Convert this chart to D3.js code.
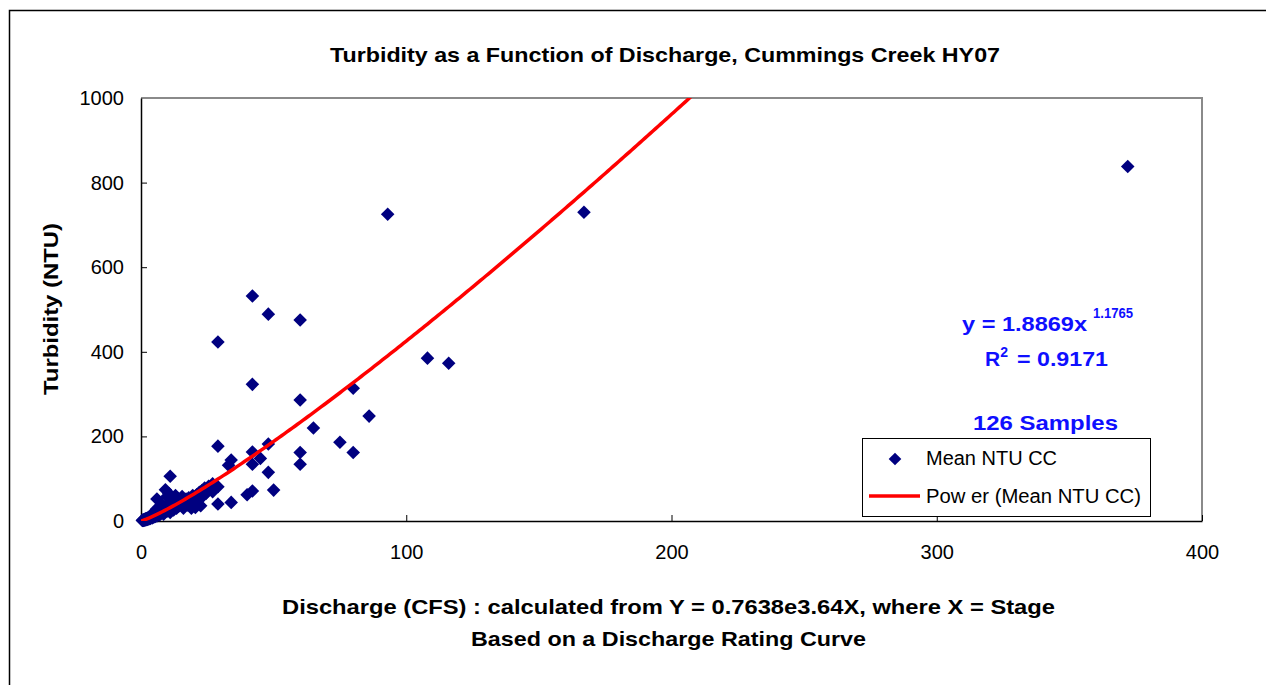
<!DOCTYPE html>
<html>
<head>
<meta charset="utf-8">
<script src="https://cdn.jsdelivr.net/npm/d3@7"></script>
<style>
  body { margin: 0; background: #fff; }
  svg { display: block; font-family: "Liberation Sans", Arial, sans-serif; }
</style>
</head>
<body>
<svg id="chart"></svg>
<script>
// donnees : debit (CFS) et turbidite (NTU)
var discharge = [
  372, 167, 93, 42, 48, 60, 29, 42, 60, 80, 108, 116, 86, 65, 75, 80, 29, 34, 33, 42,
  48, 45, 42, 48, 60, 60, 50, 42, 40, 34, 29, 29, 27, 23, 11,
  0.5, 0.6, 0.8, 1, 1.1, 1.2, 1.4, 1.5, 1.6, 1.8, 2, 2, 2.2, 2.3, 2.5, 2.6, 2.8, 3, 3, 3.2,
  3.4, 3.5, 3.7, 3.9, 4, 4.2, 4.4, 4.6, 4.8, 5, 5.2, 5.4, 5.6, 5.8, 6, 6.2, 6, 6.6, 6.8, 7,
  7.2, 7.5, 7.8, 8, 8.2, 8.5, 8.8, 9.2, 9.2, 9.5, 9.8, 10, 10.2, 10.5, 10.8, 11, 11.3, 11.6, 12, 12.3,
  12.6, 13, 13.4, 13.8, 14.2, 14.6, 15, 15.5, 16, 16.5, 17, 17.5, 18, 18.5, 19, 19.5, 20, 20.5, 21, 21.5,
  22, 22.5, 23, 23.5, 24, 24.5, 25, 25.5, 26, 27, 28
];
var turbidity = [
  838, 730, 725, 532, 489, 475, 423, 323, 286, 314, 385, 373, 248, 220, 186, 162, 177, 144, 132, 163,
  182, 148, 134, 115, 162, 134, 73, 71, 62, 44, 40, 81, 69, 69, 106,
  1, 2, 1.5, 2, 3, 2, 4, 3, 2.5, 5, 4, 6, 3, 5, 7, 4, 6, 5, 9, 7,
  11, 6, 8, 14, 10, 7, 12, 18, 9, 13, 22, 11, 16, 28, 12, 19, 52, 15, 24, 14,
  30, 18, 40, 20, 27, 16, 33, 74, 22, 29, 58, 24, 38, 65, 28, 20, 45, 32, 52, 26,
  38, 60, 30, 44, 35, 50, 40, 58, 30, 45, 52, 38, 55, 42, 30, 60, 52, 32, 62, 55,
  68, 36, 72, 60, 78, 65, 70, 82, 75, 88, 78
];
var xTicks = [0, 100, 200, 300, 400];
var yTicks = [0, 200, 400, 600, 800, 1000];
// ajustement puissance affiche par Excel
var fitA = 1.8869, fitB = 1.1765;
var fitR2 = 0.9171;

var svg = d3.select("svg").attr("width", 1266).attr("height", 685);
var plot = { left: 141, top: 98, right: 1202, bottom: 521 };

var x = d3.scaleLinear().domain([0, 400]).range([plot.left, plot.right]);
var y = d3.scaleLinear().domain([0, 1000]).range([plot.bottom, plot.top]);

// cadre exterieur
svg.append("rect")
  .attr("x", 9.5).attr("y", 10.5)
  .attr("width", 1300).attr("height", 700)
  .attr("fill", "none").attr("stroke", "#000").attr("stroke-width", 1.5);

// bords gris de la zone de tracé
svg.append("path")
  .attr("d", "M" + plot.left + "," + plot.top + "H" + plot.right + "V" + plot.bottom)
  .attr("fill", "none").attr("stroke", "#8a8a8a").attr("stroke-width", 2);

svg.append("clipPath").attr("id", "clip")
  .append("rect")
  .attr("x", plot.left).attr("y", plot.top)
  .attr("width", plot.right - plot.left).attr("height", plot.bottom - plot.top);

// axes
var gx = svg.append("g")
  .attr("transform", "translate(0," + plot.bottom + ")")
  .call(d3.axisBottom(x).tickValues(xTicks).tickFormat(d3.format("d"))
    .tickSizeInner(-6).tickSizeOuter(0).tickPadding(24));
var gy = svg.append("g")
  .attr("transform", "translate(" + plot.left + ",0)")
  .call(d3.axisLeft(y).tickValues(yTicks).tickFormat(d3.format("d"))
    .tickSizeInner(-6).tickSizeOuter(0).tickPadding(17));
[gx, gy].forEach(function(g) {
  g.select(".domain").attr("stroke", "#000").attr("stroke-width", 1.5);
  g.selectAll(".tick line").attr("stroke", "#000");
  g.selectAll(".tick text").attr("fill", "#000")
    .style("font-size", "20px").style("font-family", "Liberation Sans, Arial, sans-serif");
});
gx.selectAll(".tick text").attr("dy", "0.71em");
gy.select(".tick:last-of-type line").remove();

// points
var sym = d3.symbol().type(d3.symbolSquare).size(92);
svg.append("g")
  .selectAll("path")
  .data(d3.zip(discharge, turbidity))
  .enter().append("path")
  .attr("d", sym)
  .attr("fill", "#000080")
  .attr("transform", function(d) {
    return "translate(" + x(d[0]) + "," + y(d[1]) + ") rotate(45)";
  });

// courbe de tendance
var fitX = d3.range(0, 215, 1);
svg.append("path")
  .attr("clip-path", "url(#clip)")
  .datum(fitX)
  .attr("fill", "none")
  .attr("stroke", "#ff0000")
  .attr("stroke-width", 3.5)
  .attr("d", d3.line()
    .x(function(d) { return x(d); })
    .y(function(d) { return y(fitA * Math.pow(d, fitB)); }));

// titres (Excel etire un peu les glyphes, d'ou textLength)
function titre(tx, ty, txt, len, rot) {
  var t = svg.append("text")
    .attr("transform", "translate(" + tx + "," + ty + ")" + (rot ? " rotate(-90)" : ""))
    .attr("text-anchor", "middle")
    .attr("textLength", len).attr("lengthAdjust", "spacingAndGlyphs")
    .style("font-weight", "bold").style("font-size", "21px")
    .text(txt);
  return t;
}
titre(665, 62, "Turbidity as a Function of Discharge, Cummings Creek HY07", 670);
titre(58, 309, "Turbidity (NTU)", 172, true);
titre(668.5, 614, "Discharge (CFS) : calculated from Y = 0.7638e3.64X, where X = Stage", 773);
titre(668.5, 646, "Based on a Discharge Rating Curve", 395);

// equation
var eq = svg.append("text")
  .attr("x", 962).attr("y", 331)
  .attr("fill", "#0f0fff")
  .style("font-weight", "bold").style("font-size", "21px");
eq.append("tspan").attr("textLength", 125).attr("lengthAdjust", "spacingAndGlyphs")
  .text("y = " + fitA + "x");
eq.append("tspan").attr("x", 1093).attr("dy", -13).style("font-size", "14px")
  .attr("textLength", 40).attr("lengthAdjust", "spacingAndGlyphs")
  .text(fitB);

var r2 = svg.append("text")
  .attr("x", 985).attr("y", 366)
  .attr("fill", "#0f0fff")
  .style("font-weight", "bold").style("font-size", "21px");
r2.append("tspan").text("R");
r2.append("tspan").attr("dy", -9).style("font-size", "14px").text("2");
r2.append("tspan").attr("x", 1017).attr("dy", 9)
  .attr("textLength", 91).attr("lengthAdjust", "spacingAndGlyphs")
  .text("= " + fitR2);

svg.append("text")
  .attr("x", 1045.5).attr("y", 430)
  .attr("text-anchor", "middle")
  .attr("fill", "#0f0fff")
  .attr("textLength", 145).attr("lengthAdjust", "spacingAndGlyphs")
  .style("font-weight", "bold").style("font-size", "21px")
  .text(discharge.length + " Samples");

// legende
var legend = svg.append("g");
legend.append("rect")
  .attr("x", 862.5).attr("y", 438.5)
  .attr("width", 288).attr("height", 78)
  .attr("fill", "#fff").attr("stroke", "#000").attr("stroke-width", 1);
legend.append("path")
  .attr("d", d3.symbol().type(d3.symbolSquare).size(80))
  .attr("fill", "#000080")
  .attr("transform", "translate(895,459) rotate(45)");
legend.append("text")
  .attr("x", 926).attr("y", 465)
  .attr("textLength", 131).attr("lengthAdjust", "spacingAndGlyphs")
  .style("font-size", "20px")
  .text("Mean NTU CC");
legend.append("line")
  .attr("x1", 869).attr("x2", 920)
  .attr("y1", 496).attr("y2", 496)
  .attr("stroke", "#ff0000").attr("stroke-width", 3.5);
legend.append("text")
  .attr("x", 926).attr("y", 503)
  .attr("textLength", 215).attr("lengthAdjust", "spacingAndGlyphs")
  .style("font-size", "20px")
  .text("Pow er (Mean NTU CC)");
</script>
</body>
</html>
